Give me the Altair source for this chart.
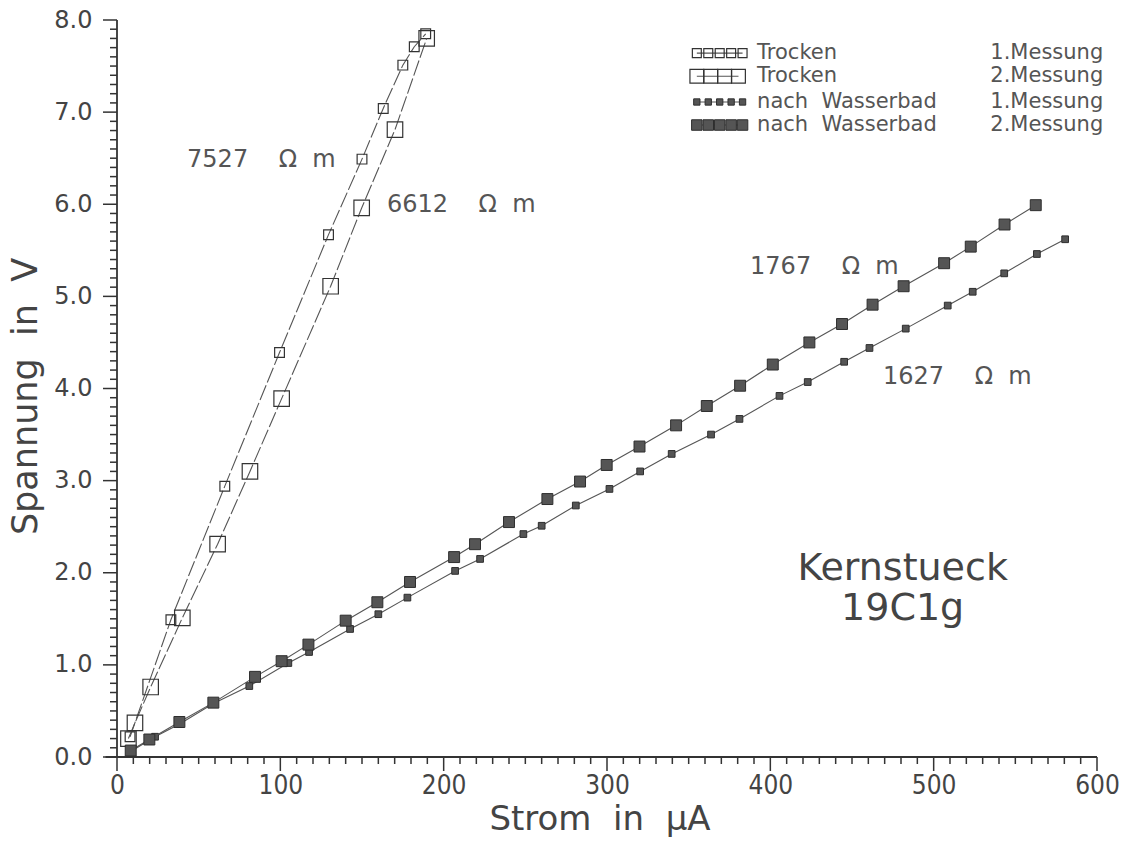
import altair as alt
import pandas as pd

# ---- measured series: current in microampere, voltage in volt ----
# dry sample, 1st measurement (7527 Ohm m)
tr1_strom = [8, 33, 66, 99.5, 129.5, 150, 163, 175, 182, 189]
tr1_spannung = [0.22, 1.49, 2.94, 4.39, 5.67, 6.49, 7.04, 7.51, 7.71, 7.85]

# dry sample, 2nd measurement (6612 Ohm m)
tr2_strom = [7, 11, 20.6, 40, 61.6, 81.4, 100.8, 130.8, 149.8, 170.2, 189.6]
tr2_spannung = [0.20, 0.37, 0.76, 1.51, 2.31, 3.10, 3.89, 5.11, 5.96, 6.81, 7.80]

# after water bath, 1st measurement (1627 Ohm m)
wb1_strom = [8.4, 23.3, 38.6, 59, 81, 104.9, 117.6, 142.7, 160, 177.8, 207, 222.3,
             248.8, 260, 280.9, 301.5, 320.3, 339.6, 363.7, 381.1, 405.6, 422.9,
             445.2, 460.7, 482.9, 508.6, 523.9, 543.2, 563.2, 580.5]
wb1_spannung = [0.06, 0.22, 0.36, 0.58, 0.77, 1.02, 1.14, 1.39, 1.55, 1.73, 2.02, 2.15,
                2.42, 2.51, 2.73, 2.91, 3.10, 3.29, 3.50, 3.67, 3.92, 4.07,
                4.29, 4.44, 4.65, 4.90, 5.05, 5.25, 5.46, 5.62]

# after water bath, 2nd measurement (1767 Ohm m)
wb2_strom = [8.4, 19.8, 38.2, 59, 84.5, 100.8, 117.2, 140, 159.4, 179.4, 206.4, 219.2,
             240, 263.5, 283.5, 299.8, 319.9, 342.3, 361.1, 381.5, 401.5, 423.9,
             443.9, 462.6, 481.6, 506.4, 522.7, 543.4, 562.5]
wb2_spannung = [0.07, 0.19, 0.38, 0.59, 0.87, 1.04, 1.22, 1.48, 1.68, 1.90, 2.17, 2.31,
                2.55, 2.80, 2.99, 3.17, 3.37, 3.60, 3.81, 4.03, 4.26, 4.50,
                4.70, 4.91, 5.11, 5.36, 5.54, 5.78, 5.99]

NB = "\u00a0"

# resistivity labels next to the fitted lines
res_labels = ["7527" + NB * 4 + "\u03a9" + NB * 2 + "m", "6612" + NB * 4 + "\u03a9" + NB * 2 + "m",
              "1767" + NB * 4 + "\u03a9" + NB * 2 + "m", "1627" + NB * 4 + "\u03a9" + NB * 2 + "m"]
res_strom = [42.9, 165.3, 387.6, 469]
res_spannung = [6.48, 5.99, 5.32, 4.12]

# sample name
sample_lines = ["Kernstueck", "19C1g"]
sample_strom = [481, 481]
sample_spannung = [1.92, 1.49]

# legend entries
leg_names = ["Trocken", "Trocken", "nach" + NB * 2 + "Wasserbad", "nach" + NB * 2 + "Wasserbad"]
leg_runs = ["1.Messung", "2.Messung", "1.Messung", "2.Messung"]
leg_spannung = [7.64, 7.39, 7.11, 6.86]
leg_text_strom = 391.9
leg_run_strom = 603.8

# axis tick positions
x_minor = [i * 10 for i in range(61) if i % 10 != 0]
x_major = [i * 100 for i in range(7)]
y_minor = [round(i * 0.1, 1) for i in range(81) if i % 10 != 0]
y_major = [float(i) for i in range(9)]

INK = "#444444"
FONT = "DejaVu Sans"

# the view reaches a margin beyond the zero lines so the tick combs sit inside it
PX_PER_UA = 980 / 600
PX_PER_V = 737 / 8
MARGIN_PX = 15
TICK_SHORT, TICK_LONG = 7, 14
X_DOM = [-MARGIN_PX / PX_PER_UA, 600]
Y_DOM = [-MARGIN_PX / PX_PER_V, 8]
VIEW_W = round((X_DOM[1] - X_DOM[0]) * PX_PER_UA)
VIEW_H = round((Y_DOM[1] - Y_DOM[0]) * PX_PER_V)

x_scale = alt.Scale(domain=X_DOM, nice=False, zero=False)
y_scale = alt.Scale(domain=Y_DOM, nice=False, zero=False)

x_axis = alt.Axis(
    values=x_major, format="d", ticks=False, domain=False,
    labelFontSize=26, labelFont="DejaVu Sans Condensed", labelColor=INK, labelPadding=0,
    title="Strom" + NB * 2 + "in" + NB * 2 + "\u00b5A", titleFontSize=34, titleFont=FONT,
    titleFontWeight="normal", titleColor=INK, titlePadding=4,
    grid=False, labelFlush=False, labelOverlap=False,
)
y_axis = alt.Axis(
    values=y_major, format=".1f", ticks=False, domain=False,
    labelFontSize=24, labelFont=FONT, labelColor=INK, labelPadding=10,
    title="Spannung" + NB * 2 + "in" + NB * 2 + "V", titleFontSize=35, titleFont=FONT,
    titleFontWeight="normal", titleColor=INK, titlePadding=10,
    grid=False, labelFlush=False, labelOverlap=False,
)


def frame(strom, spannung):
    return pd.DataFrame({"strom": strom, "spannung": spannung,
                         "idx": list(range(len(strom)))})


def enc(chart):
    return chart.encode(
        x=alt.X("strom:Q", scale=x_scale, axis=x_axis),
        y=alt.Y("spannung:Q", scale=y_scale, axis=y_axis),
    )


def square_marks(df, size, filled):
    if filled:
        mark = alt.Chart(df).mark_square(size=size, filled=True, color="#555555",
                                         stroke="#2e2e2e", strokeWidth=1, opacity=1)
    else:
        mark = alt.Chart(df).mark_square(size=size, filled=False, color="#333333",
                                         strokeWidth=1.2, opacity=1)
    return enc(mark)


def line_mark(df, dash):
    line_kw = dict(color="#555555", strokeWidth=1.1)
    if dash:
        line_kw["strokeDash"] = [16, 3]
    return enc(alt.Chart(df).mark_line(**line_kw)).encode(order="idx:Q")


# axis lines and tick combs as short two-point segments
seg_rows = []


def add_segment(x0, y0, x1, y1):
    sid = len(seg_rows) // 2
    seg_rows.append({"strom": x0, "spannung": y0, "seg": sid, "idx": 0})
    seg_rows.append({"strom": x1, "spannung": y1, "seg": sid, "idx": 1})


for v in x_minor:
    add_segment(v, 0, v, -TICK_SHORT / PX_PER_V)
for v in x_major:
    add_segment(v, 0, v, -TICK_LONG / PX_PER_V)
for v in y_minor:
    add_segment(0, v, -TICK_SHORT / PX_PER_UA, v)
for v in y_major:
    add_segment(0, v, -TICK_LONG / PX_PER_UA, v)
tick_df = pd.DataFrame(seg_rows)

axis_rows = []
for sid, (pts) in enumerate([[(-7, 0), (600, 0)], [(0, 0), (0, 8)]]):
    for k, (sx, sy) in enumerate(pts):
        axis_rows.append({"strom": sx, "spannung": sy, "seg": sid, "idx": k})
axis_df = pd.DataFrame(axis_rows)

layers = [
    enc(alt.Chart(tick_df).mark_line(color="#333333", strokeWidth=1.5)).encode(
        detail="seg:N", order="idx:Q"),
    enc(alt.Chart(axis_df).mark_line(color="#333333", strokeWidth=1.8)).encode(
        detail="seg:N", order="idx:Q"),
]

layers += [line_mark(frame(tr1_strom, tr1_spannung), True),
           square_marks(frame(tr1_strom, tr1_spannung), 95, False)]
layers += [line_mark(frame(tr2_strom, tr2_spannung), True),
           square_marks(frame(tr2_strom, tr2_spannung), 240, False)]
layers += [line_mark(frame(wb1_strom, wb1_spannung), False),
           square_marks(frame(wb1_strom, wb1_spannung), 45, True)]
layers += [line_mark(frame(wb2_strom, wb2_spannung), False),
           square_marks(frame(wb2_strom, wb2_spannung), 120, True)]

# resistivity annotations
res_df = pd.DataFrame({"strom": res_strom, "spannung": res_spannung, "txt": res_labels})
layers.append(enc(alt.Chart(res_df).mark_text(
    align="left", baseline="middle", font=FONT, fontSize=24, color="#555"
)).encode(text="txt:N"))

# sample name
smp_df = pd.DataFrame({"strom": sample_strom, "spannung": sample_spannung, "txt": sample_lines})
layers.append(enc(alt.Chart(smp_df).mark_text(
    align="center", baseline="alphabetic", font=FONT, fontSize=38, color="#444"
)).encode(text="txt:N"))

# legend: sample strips drawn in data space at the upper right
leg_strip_specs = [
    # (row, centre positions, size, filled)
    (0, [355, 362, 369, 376, 383], 80, False),
    (1, [355, 363.5, 372, 380.5], 190, False),
    (2, [355, 362, 369, 376, 383], 40, True),
    (3, [355, 362, 369, 376, 383], 110, True),
]
for row, xs, size, filled in leg_strip_specs:
    df = frame(xs, [leg_spannung[row]] * len(xs))
    layers.append(line_mark(df, False))
    layers.append(square_marks(df, size, filled))

leg_df = pd.DataFrame({"strom": [leg_text_strom] * 4, "spannung": leg_spannung,
                       "name": leg_names, "run": leg_runs})
layers.append(enc(alt.Chart(leg_df).mark_text(
    align="left", baseline="middle", font=FONT, fontSize=21, color="#555"
)).encode(text="name:N"))
leg_df2 = leg_df.assign(strom=leg_run_strom)
layers.append(enc(alt.Chart(leg_df2).mark_text(
    align="right", baseline="middle", font=FONT, fontSize=21, color="#555"
)).encode(text="run:N"))

chart = alt.layer(*layers).properties(
    width=VIEW_W, height=VIEW_H,
    autosize=alt.AutoSizeParams(type="none"),
    padding={"left": 117 - MARGIN_PX, "top": 20, "right": 30,
             "bottom": 842 - 20 - VIEW_H},
    background="white",
).configure_view(stroke=None)

chart.save("out.html", embed_options={"renderer": "svg", "actions": False})
